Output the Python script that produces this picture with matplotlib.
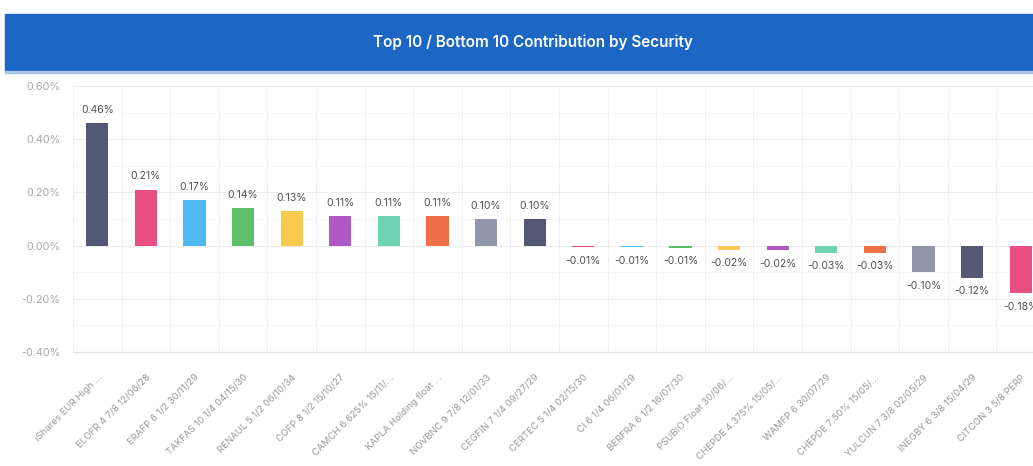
import matplotlib.pyplot as plt
from matplotlib.patches import Rectangle
from matplotlib.ticker import MultipleLocator, FuncFormatter

plt.rcParams['font.family'] = ['Inter', 'DejaVu Sans']

# Datos del gráfico
titulo = 'Top 10 / Bottom 10 Contribution by Security'
valores_nombres = [
    'iShares EUR High ...', 'ELOFR 4 7/8 12/06/28', 'ERAFP 6 1/2 30/11/29',
    'TAKFAS 10 1/4 04/15/30', 'RENAUL 5 1/2 06/10/34', 'COFP 8 1/2 15/10/27',
    'CAMCH 6.625% 15/11/...', 'KAPLA Holding float ...', 'NOVBNC 9 7/8 12/01/33',
    'CEGFIN 7 1/4 09/27/29', 'CERTEC 5 1/4 02/15/30', 'CI 6 1/4 06/01/29',
    'BERFRA 6 1/2 16/07/30', 'PSUBIO Float 30/06/...', 'CHEPDE 4.375% 15/05/...',
    'WAMFP 6 30/07/29', 'CHEPDE 7.50% 15/05/...', 'YULCUN 7 3/8 02/05/29',
    'INEGBY 6 3/8 15/04/29', 'CITCON 3 5/8 PERP',
]
contribucion = [0.46, 0.21, 0.17, 0.14, 0.13, 0.11, 0.11, 0.11, 0.10, 0.10,
                -0.006, -0.006, -0.008, -0.016, -0.018, -0.026, -0.026,
                -0.10, -0.12, -0.18]
paleta = ['#555874', '#ea4f82', '#4db8f2', '#5cbf6c', '#f8c94c',
          '#b058c8', '#6dd4b4', '#ef6f47', '#9296aa']
colores = [paleta[i % len(paleta)] for i in range(len(contribucion))]

fig = plt.figure(figsize=(10.33, 4.66), dpi=100)

# Cabecera azul con el título
fig.patches.append(Rectangle((5 / 1033, 1 - 71 / 466), 1.0, 57 / 466,
                             transform=fig.transFigure, color='#1c66c4',
                             zorder=0))
fig.patches.append(Rectangle((5 / 1033, 1 - 73 / 466), 1.0, 2 / 466,
                             transform=fig.transFigure, color='#a9c6ea',
                             zorder=0))
fig.text(533 / 1033, 1 - 42 / 466, titulo, color='white', fontsize=11,
         fontweight='semibold', ha='center', va='center')

ax = fig.add_axes([73 / 1033, 1 - 352 / 466, 972 / 1033, 266 / 466])
x = list(range(len(contribucion)))
ax.bar(x, contribucion, width=0.46, color=colores, zorder=3)

# Etiquetas de valor
for xi, v in zip(x, contribucion):
    if v >= 0:
        ax.annotate(f'{v:.2f}%', (xi, v), xytext=(0, 6), textcoords='offset points',
                    ha='center', va='bottom', fontsize=7.5, color='#505050')
    else:
        ax.annotate(f'{v:.2f}%', (xi, v), xytext=(0, -6), textcoords='offset points',
                    ha='center', va='top', fontsize=7.5, color='#505050')

ax.set_xlim(-0.5, len(contribucion) - 0.5)
ax.set_ylim(-0.4, 0.6)
ax.yaxis.set_major_locator(MultipleLocator(0.2))
ax.yaxis.set_minor_locator(MultipleLocator(0.1))
ax.yaxis.set_major_formatter(FuncFormatter(lambda v, p: f'{v:.2f}%'))
ax.set_xticks(x)
ax.set_xticks([i - 0.5 for i in range(len(contribucion) + 1)], minor=True)
ax.set_xticklabels(valores_nombres, rotation=45, ha='right',
                   rotation_mode='anchor', fontsize=6.9, color='#969696')
ax.tick_params(axis='x', which='both', length=0, pad=15)
ax.tick_params(axis='y', which='both', length=0, pad=9, labelsize=7.8,
               labelcolor='#a8a8a8')

ax.grid(True, which='major', axis='y', color='#ececec', lw=0.8, zorder=0)
ax.grid(True, which='minor', axis='y', color='#f6f6f6', lw=0.6, zorder=0)
ax.grid(True, which='minor', axis='x', color='#efefef', lw=0.7, zorder=0)
for lado in ['top', 'right', 'left']:
    ax.spines[lado].set_visible(False)
ax.spines['bottom'].set_color('#e2e2e2')

fig.savefig('out.png', dpi=100)
